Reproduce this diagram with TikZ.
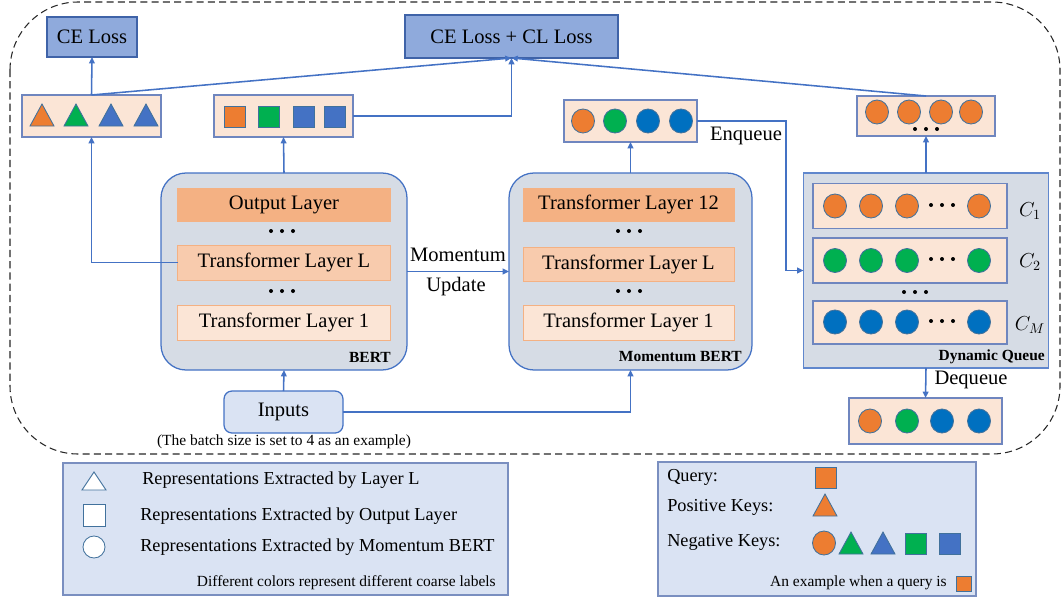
\documentclass[tikz,border=0pt]{standalone}
\usepackage{fontspec}
\setmainfont{Liberation Serif}
\usetikzlibrary{arrows.meta,calc}

% one unit of the drawing grid
\newcommand{\upx}{0.025cm}

\definecolor{lossfill}{HTML}{8FAADC}
\definecolor{lossdraw}{HTML}{3F63A8}
\definecolor{peach}{HTML}{FBE5D6}
\definecolor{peachdraw}{HTML}{6F86BF}
\definecolor{bertfill}{HTML}{D6DCE5}
\definecolor{bertdraw}{HTML}{4472C4}
\definecolor{layerA}{HTML}{F4B183}
\definecolor{layerB}{HTML}{F8CBAD}
\definecolor{layerC}{HTML}{FBE5D6}
\definecolor{layeredge}{HTML}{F4B183}
\definecolor{lightblue}{HTML}{DAE3F3}
\definecolor{legdraw}{HTML}{7A8FC0}
\definecolor{arrowc}{HTML}{4472C4}
\definecolor{cor}{HTML}{ED7D31}
\definecolor{cgr}{HTML}{00B050}
\definecolor{cbl}{HTML}{4472C4}
\definecolor{cdb}{HTML}{0070C0}
\definecolor{shapeedge}{HTML}{41719C}

\tikzset{
  sz/.style 2 args={minimum width=#1*\upx, minimum height=#2*\upx, inner sep=0pt, outer sep=0pt},
  main/.style={font=\fontsize{14.6}{16}\selectfont},
  legtext/.style={font=\fontsize{13}{15}\selectfont, inner sep=0pt, anchor=west},
  small/.style={font=\fontsize{11}{13}\selectfont, inner sep=0pt},
  tag/.style={font=\fontsize{11}{13}\selectfont\bfseries, inner sep=0pt, anchor=east},
  lossbox/.style={draw=lossdraw, fill=lossfill, line width=0.8pt, main},
  repbox/.style={draw=peachdraw, fill=peach, line width=0.8pt},
  model/.style={draw=bertdraw, fill=bertfill, line width=0.9pt, rounded corners=25*\upx},
  queuebox/.style={draw=bertdraw!85, fill=bertfill, line width=0.9pt},
  layertop/.style={fill=layerA, draw=layeredge, line width=0.5pt, main},
  layermid/.style={fill=layerB, draw=layeredge, line width=0.5pt, main},
  layerlow/.style={fill=layerC, draw=layeredge, line width=0.5pt, main},
  inbox/.style={draw=bertdraw, fill=lightblue, line width=0.9pt, rounded corners=8*\upx, main},
  legbox/.style={draw=legdraw, fill=lightblue, line width=0.8pt},
  link/.style={draw=arrowc, line width=1.1pt},
  arr/.style={link, -{Triangle[length=4.5pt,width=4pt]}},
  shp/.style={draw=shapeedge, line width=0.6pt},
  outline/.style={draw=black!85, line width=0.75pt, dash pattern=on 5pt off 3pt, rounded corners=68*\upx},
}

% small glyph-like shapes
\newcommand{\shtri}[2]{\filldraw[fill=#2, shp] (#1) ++(-12,11) -- ++(24,0) -- ++(-12,-22) -- cycle;}
\newcommand{\shsq}[2]{\filldraw[fill=#2, shp] (#1) ++(-10.5,-10.5) rectangle ++(21,21);}
\newcommand{\shci}[2]{\filldraw[fill=#2, shp] (#1) circle[x radius=11.5*\upx, y radius=12*\upx];}
\newcommand{\dotrow}[1]{\foreach \d in {-11,0,11} {\fill (#1) ++(\d,0) circle[radius=2*\upx];}}

\begin{document}
\begin{tikzpicture}[x=\upx, y=-\upx]
\useasboundingbox (0,0) rectangle (1062,604);

% dashed frame around the training pipeline
\draw[outline] (10,2) rectangle (1060,454);

% losses
\node[lossbox, sz={90}{40}] (ce) at (92,37) {CE Loss};
\node[lossbox, sz={213}{43}] (cecl) at (511.5,36.5) {CE Loss + CL Loss};

% representation boxes
\node[repbox, sz={139}{42}] (tribox) at (91.5,116) {};
\node[repbox, sz={139}{42}] (sqbox) at (283.5,116) {};
\node[repbox, sz={133}{42}] (mcbox) at (630.5,121) {};
\node[repbox, sz={138}{40}] (qtop) at (926,116) {};

\shtri{42,115}{cor} \shtri{76,115}{cgr} \shtri{111,115}{cbl} \shtri{146,115}{cbl}
\shsq{234.5,117}{cor} \shsq{269,117}{cgr} \shsq{303.5,117}{cbl} \shsq{334.5,117}{cbl}
\shci{583,121}{cor} \shci{615,121}{cgr} \shci{648,121}{cdb} \shci{681,121}{cdb}
\shci{877,112}{cor} \shci{909,112}{cor} \shci{941,112}{cor} \shci{971,112}{cor}
\dotrow{926,129}

% BERT
\node[model, sz={246}{197}] (bert) at (284,271.5) {};
\node[layertop, sz={213}{33}] (bout) at (284,204.5) {Output Layer};
\node[layermid, sz={213}{35}] (bL) at (284,262.5) {Transformer Layer L};
\node[layerlow, sz={213}{35}] (b1) at (284,322.5) {Transformer Layer 1};
\dotrow{282,231}
\dotrow{282,291}
\node[tag] (bertname) at (391,357) {BERT};

% Momentum BERT
\node[model, sz={243}{197}] (mbert) at (630.5,271.5) {};
\node[layertop, sz={211}{33}] (m12) at (628.5,204.5) {Transformer Layer 12};
\node[layermid, sz={211}{34}] (mL) at (628.5,264) {Transformer Layer L};
\node[layerlow, sz={211}{35}] (m1) at (628.5,322.5) {Transformer Layer 1};
\dotrow{629,231}
\dotrow{629,291}
\node[tag] (mbertname) at (742,357) {Momentum BERT};

% inputs
\node[inbox, sz={119}{42}] (inputs) at (283.5,412) {Inputs};
\node[small] (batchnote) at (284,442) {(The batch size is set to 4 as an example)};

% dynamic queue
\node[queuebox, sz={245}{195}] (queue) at (926,270.5) {};
\node[repbox, sz={194}{45}] (row1) at (910,206) {};
\node[repbox, sz={194}{45}] (row2) at (910,260.5) {};
\node[repbox, sz={194}{43}] (row3) at (910,322.5) {};
\foreach \cx in {835,871,907,979} {\shci{\cx,206}{cor} \shci{\cx,260.5}{cgr} \shci{\cx,322}{cdb}}
\dotrow{942,205}
\dotrow{942,259}
\dotrow{942,321}
\dotrow{915,292}
\node[main] (c1) at (1030,211) {$C_1$};
\node[main] (c2) at (1030,262) {$C_2$};
\node[main] (cm) at (1030,325) {$C_M$};
\node[tag] (qname) at (1045,357) {Dynamic Queue};

\node[repbox, sz={153}{46}] (deq) at (925.5,421) {};
\shci{870,421}{cor} \shci{907,421}{cgr} \shci{942,421}{cdb} \shci{979,421}{cdb}

% connectors
\draw[arr] (tribox.north) -- (ce.south);
\draw[arr] (tribox.north) -- (cecl.south);
\draw[arr] (sqbox.east) -- (sqbox.east -| cecl.south) -- (cecl.south);
\draw[arr] (qtop.north) -- (cecl.south);
\draw[arr] (bert.north) -- (sqbox.south);
\draw[arr] (bL.west) -| (tribox.south);
\draw[arr] (bert.east) -- (mbert.west);
\node[main] (mlabel) at (458,255) {Momentum};
\node[main] (ulabel) at (456,287) {Update};
\draw[arr] (inputs.north) -- (bert.south);
\draw[arr] (inputs.east) -| (mbert.south);
\draw[arr] (mbert.north) -- (mcbox.south);
\coordinate (eqturn) at (786,121);
\draw[arr] (mcbox.east) -- (eqturn) |- (queue.west);
\node[main] (enq) at (746,136) {Enqueue};
\draw[arr] (queue.north) -- (qtop.south);
\draw[arr] (queue.south) -- (deq.north);
\node[main] (deqlabel) at (971,380) {Dequeue};

% legend: shapes
\node[legbox, sz={445}{132}] (leg1) at (285.5,529) {};
\filldraw[fill=white, shp] (94,481) ++(-12,9) -- ++(24,0) -- ++(-12,-18) -- cycle;
\filldraw[fill=white, shp] (83,504) rectangle (105,526);
\filldraw[fill=white, shp] (94,547) circle[radius=11*\upx];
\node[legtext] (l1) at (142,480) {Representations Extracted by Layer L};
\node[legtext] (l2) at (140,516) {Representations Extracted by Output Layer};
\node[legtext] (l3) at (140,547) {Representations Extracted by Momentum BERT};
\node[small, anchor=east] (l4) at (496,583) {Different colors represent different coarse labels};

% legend: keys
\node[legbox, sz={318}{134}] (leg2) at (817,529) {};
\node[legtext] (q) at (667,477) {Query:};
\node[legtext] (pk) at (667,507) {Positive Keys:};
\node[legtext] (nk) at (667,542) {Negative Keys:};
\shsq{825.5,477.5}{cor}
\shtri{825,505}{cor}
\shci{824,543}{cor}
\shtri{851,543}{cgr} \shtri{883,543}{cbl}
\shsq{915.5,544}{cgr} \shsq{950,544}{cbl}
\node[small, anchor=east] (ex) at (947,583) {An example when a query is};
\filldraw[fill=cor, shp] (956,576) rectangle (971,591);
\end{tikzpicture}
\end{document}
